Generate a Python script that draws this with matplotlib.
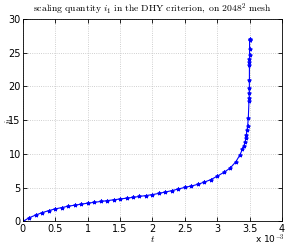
import numpy as np
import matplotlib.pyplot as plt
from matplotlib.ticker import FuncFormatter

plt.rcParams['mathtext.fontset'] = 'cm'

# time (in units of 1e-3) and scaling quantity i_1
t_ms = [0.0, 0.1, 0.2, 0.3, 0.4, 0.5, 0.6, 0.7, 0.8, 0.9,
        1.0, 1.1, 1.2, 1.3, 1.4, 1.5, 1.6, 1.7, 1.8, 1.9,
        2.0, 2.1, 2.2, 2.3, 2.4, 2.5, 2.6, 2.7, 2.8, 2.9,
        3.0, 3.1, 3.2, 3.29, 3.35, 3.39, 3.41, 3.43, 3.44, 3.45,
        3.46, 3.47, 3.48, 3.49, 3.494, 3.495, 3.496, 3.497, 3.497, 3.498,
        3.498, 3.499, 3.499, 3.5, 3.5, 3.5]
i1 = [0.0, 0.55, 0.95, 1.3, 1.6, 1.85, 2.05, 2.25, 2.4, 2.55,
      2.7, 2.82, 2.95, 3.07, 3.2, 3.32, 3.44, 3.56, 3.7, 3.83,
      3.97, 4.15, 4.35, 4.56, 4.8, 5.04, 5.24, 5.49, 5.82, 6.18,
      6.7, 7.25, 7.9, 8.87, 9.85, 10.7, 11.2, 11.7, 12.3, 12.85,
      13.5, 14.2, 15.3, 17.8, 18.3, 18.97, 19.8, 20.9, 23.2, 23.6,
      24.06, 24.7, 25.6, 26.9, 26.9, 27.0]

t = np.array(t_ms) * 1e-3

fig = plt.figure(figsize=(2.86, 2.46), dpi=100)
ax = fig.add_axes([0.080, 0.100, 0.906, 0.823])
ax.plot(t, i1, '-', color=(0, 0, 1), lw=0.8, marker='*', ms=2.8, mew=0.7)

ax.set_xlim(0, 0.004)
ax.set_ylim(0, 30)
ax.set_xticks(np.arange(0, 0.0041, 0.0005))
ax.set_yticks(np.arange(0, 31, 5))
ax.xaxis.set_major_formatter(FuncFormatter(lambda v, p: '%g' % round(v * 1000, 3)))
ax.tick_params(direction='in', length=3, width=0.6, labelsize=7, pad=2,
               top=True, right=True)
ax.tick_params(axis='y', pad=1.5)
ax.grid(True, linestyle=':', color='#c0c0c0', lw=0.6)
for s in ax.spines.values():
    s.set_linewidth(0.6)

ax.set_title(r'$\mathrm{scaling\ quantity\ }i_1\mathrm{\ in\ the\ DHY\ criterion,\ on\ }2048^2\mathrm{\ mesh}$',
             fontsize=7, pad=5)
ax.set_xlabel(r'$t$', fontsize=7, labelpad=0)
fig.text(0.012, 0.5115, r'$i_1$', fontsize=6, rotation=90, ha='left', va='center')
fig.text(0.995, 0.01, r'x 10$^{-3}$', fontsize=6.5, ha='right')

fig.savefig('out.png', dpi=100)
